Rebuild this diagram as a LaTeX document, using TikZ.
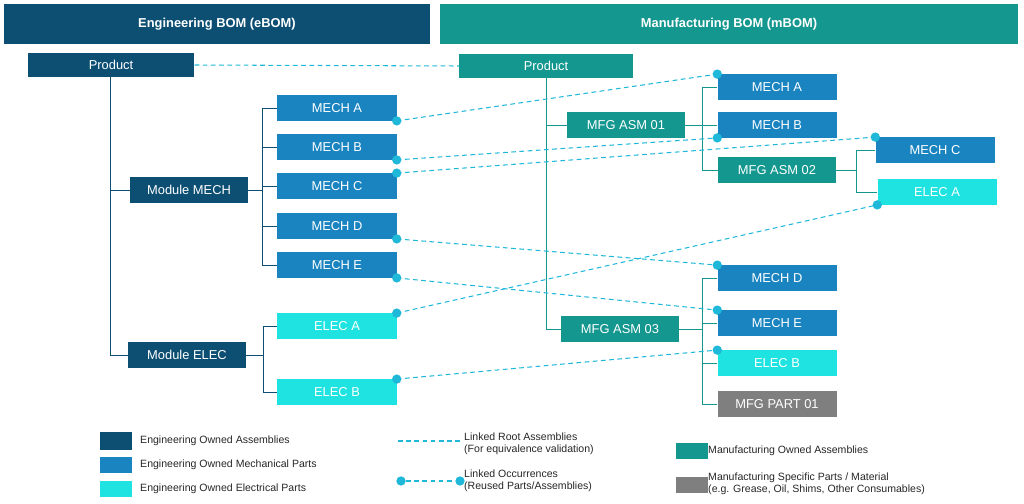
\documentclass[tikz,border=0pt]{standalone}
\usepackage{fontspec}
\setmainfont{Liberation Sans}
\begin{document}
\begin{tikzpicture}[x=0.03cm,y=-0.03cm,
  box/.style={draw=none,minimum height=0.76cm,inner sep=0,font=\fontsize{11}{12}\selectfont,text=white},
  easm/.style={box,fill=eng,minimum width=3.55cm},
  mech/.style={box,fill=mec,minimum width=3.57cm},
  elec/.style={box,fill=ele,minimum width=3.57cm},
  masm/.style={box,fill=mfg,minimum width=3.55cm},
  mpart/.style={box,fill=gry,minimum width=3.57cm},
  etree/.style={draw=eng,line width=0.8pt},
  mtree/.style={draw=mfg,line width=0.8pt},
  link/.style={draw=lnk,line width=0.9pt,dash pattern=on 4pt off 3pt},
  dot/.style={circle,fill=lnk,inner sep=0,minimum size=0.28cm},
  leg/.style={font=\fontsize{9}{10.5}\selectfont,text=black!85,anchor=west,align=left,inner sep=0}]
\definecolor{eng}{HTML}{0D4F73}
\definecolor{mec}{HTML}{1A84C0}
\definecolor{ele}{HTML}{1EE3E0}
\definecolor{mfg}{HTML}{13978F}
\definecolor{gry}{HTML}{7F7F7F}
\definecolor{lnk}{HTML}{1FB8D8}
\useasboundingbox (0,0) rectangle (1024,504);
% headers
\node[box,fill=eng,minimum width=12.78cm,minimum height=1.2cm,font=\fontsize{11}{12}\selectfont\bfseries] (hE) at (217,24) {Engineering BOM (eBOM)};
\node[box,fill=mfg,minimum width=17.34cm,minimum height=1.2cm,font=\fontsize{11}{12}\selectfont\bfseries] (hM) at (729,24) {Manufacturing BOM (mBOM)};
% eBOM
\node[easm,minimum width=5.0cm,minimum height=0.7cm] (eP) at (111,65) {Product};
\node[easm] (eMM) at (189,190) {Module MECH};
\node[easm] (eME) at (187,355) {Module ELEC};
\node[mech] (eA) at (337,108) {MECH A};
\node[mech] (eB) at (337,147) {MECH B};
\node[mech] (eC) at (337,186) {MECH C};
\node[mech] (eD) at (337,226) {MECH D};
\node[mech] (eE) at (337,265) {MECH E};
\node[elec] (eEA) at (337,326) {ELEC A};
\node[elec] (eEB) at (337,392) {ELEC B};
\draw[etree] (110,65|-eP.south) -- (110,355) -- (eME.west);
\draw[etree] (110,190) -- (eMM.west);
\draw[etree] (eMM.east) -- (262,190);
\draw[etree] (eA.west) -- (262,108) -- (262,265) -- (eE.west);
\foreach \n in {eB,eC,eD} \draw[etree] (262,0|-\n.west) -- (\n.west);
\draw[etree] (eME.east) -- (263,355);
\draw[etree] (eEA.west) -- (263,326) -- (263,392) -- (eEB.west);
% mBOM
\node[masm,minimum width=5.19cm,minimum height=0.72cm] (mP) at (546,66) {Product};
\node[masm] (m1) at (626,125) {MFG ASM 01};
\node[masm] (m2) at (777,170) {MFG ASM 02};
\node[masm] (m3) at (620,329) {MFG ASM 03};
\node[mech] (mA) at (777,87) {MECH A};
\node[mech] (mB) at (777,125) {MECH B};
\node[mech] (mC) at (935,150) {MECH C};
\node[elec] (mEA) at (937,192) {ELEC A};
\node[mech] (mD) at (777,278) {MECH D};
\node[mech] (mE) at (777,323) {MECH E};
\node[elec] (mEB) at (777,363) {ELEC B};
\node[mpart] (mF) at (777,404) {MFG PART 01};
\draw[mtree] (546,0|-mP.south) -- (546,329) -- (m3.west);
\draw[mtree] (546,125) -- (m1.west);
\draw[mtree] (m1.east) -- (702,125);
\draw[mtree] (mA.west) -- (702,87) -- (702,170) -- (m2.west);
\draw[mtree] (702,125) -- (mB.west);
\draw[mtree] (m2.east) -- (856,170);
\draw[mtree] (mC.west) -- (856,150) -- (856,192) -- (mEA.west);
\draw[mtree] (m3.east) -- (702,329);
\draw[mtree] (mD.west) -- (702,278) -- (702,404) -- (mF.west);
\foreach \n in {mE,mEB} \draw[mtree] (702,0|-\n.west) -- (\n.west);
% links
\draw[link] (eP.east) -- (mP.west);
\foreach \a/\b in {eA.south east/mA.north west, eB.south east/mB.south west, eC.north east/mC.north west, eD.south east/mD.north west, eE.south east/mE.north west, eEA.north east/mEA.south west, eEB.north east/mEB.north west}{
  \draw[link] (\a) -- (\b);
  \node[dot] at (\a) {};
  \node[dot] at (\b) {};
}
% legend
\node[box,fill=eng,minimum width=0.96cm,minimum height=0.54cm] (l1) at (116,441) {};
\node[box,fill=mec,minimum width=0.96cm,minimum height=0.5cm] (l2) at (116,465) {};
\node[box,fill=ele,minimum width=0.96cm,minimum height=0.5cm] (l3) at (116,489) {};
\node[leg] at (140,441) {Engineering Owned Assemblies};
\node[leg] at (140,465) {Engineering Owned Mechanical Parts};
\node[leg] at (140,489) {Engineering Owned Electrical Parts};
\coordinate (r1) at (398,441); \coordinate (r2) at (460,441);
\draw[link] (r1) -- (r2);
\node[leg] at (464,444) {Linked Root Assemblies\\(For equivalence validation)};
\node[dot] (d1) at (401,481) {}; \node[dot] (d2) at (460,481) {};
\draw[link] (d1) -- (d2);
\node[leg] at (464,481) {Linked Occurrences\\(Reused Parts/Assemblies)};
\node[box,fill=mfg,minimum width=0.96cm,minimum height=0.5cm] (l4) at (692,451) {};
\node[box,fill=gry,minimum width=0.96cm,minimum height=0.5cm] (l5) at (692,485) {};
\node[leg] at (708,451) {Manufacturing Owned Assemblies};
\node[leg] at (708,484) {Manufacturing Specific Parts / Material\\(e.g. Grease, Oil, Shims, Other Consumables)};
\end{tikzpicture}
\end{document}
